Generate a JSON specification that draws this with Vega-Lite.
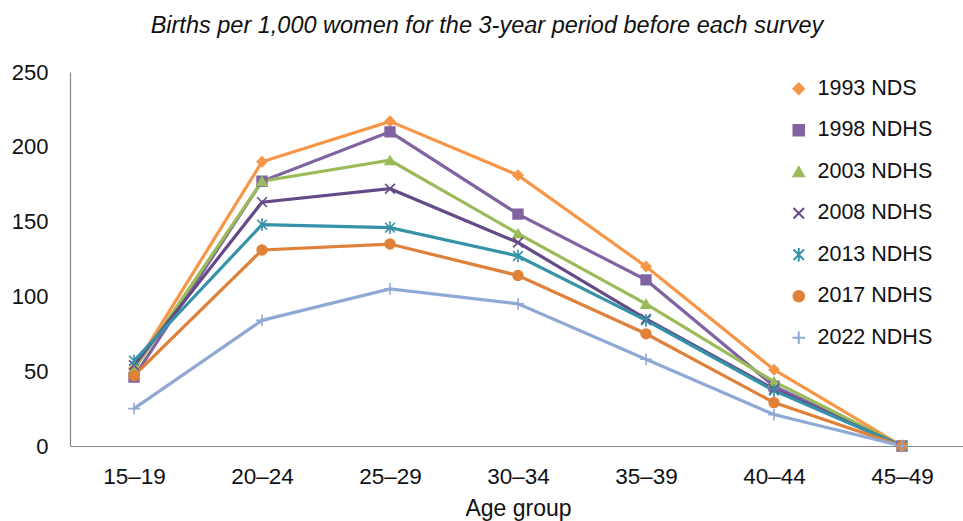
{
  "$schema": "https://vega.github.io/schema/vega-lite/v6.json",
  "autosize": "none",
  "width": 896,
  "height": 374,
  "padding": {"left": 70, "top": 72, "right": 0, "bottom": 75},
  "background": "white",
  "title": {
    "text": "Births per 1,000 women for the 3-year period before each survey",
    "font": "Liberation Sans",
    "fontSize": 23.5,
    "fontStyle": "italic",
    "fontWeight": "normal",
    "color": "#111111",
    "anchor": "middle",
    "dx": -31,
    "offset": 24
  },
  "data": {
    "values": [
      {"series": "1993 NDS", "age": "15–19", "rate": 52},
      {"series": "1993 NDS", "age": "20–24", "rate": 190},
      {"series": "1993 NDS", "age": "25–29", "rate": 217},
      {"series": "1993 NDS", "age": "30–34", "rate": 181},
      {"series": "1993 NDS", "age": "35–39", "rate": 120},
      {"series": "1993 NDS", "age": "40–44", "rate": 51},
      {"series": "1993 NDS", "age": "45–49", "rate": 0},
      {"series": "1998 NDHS", "age": "15–19", "rate": 46},
      {"series": "1998 NDHS", "age": "20–24", "rate": 177},
      {"series": "1998 NDHS", "age": "25–29", "rate": 210},
      {"series": "1998 NDHS", "age": "30–34", "rate": 155},
      {"series": "1998 NDHS", "age": "35–39", "rate": 111},
      {"series": "1998 NDHS", "age": "40–44", "rate": 40},
      {"series": "1998 NDHS", "age": "45–49", "rate": 0},
      {"series": "2003 NDHS", "age": "15–19", "rate": 51},
      {"series": "2003 NDHS", "age": "20–24", "rate": 177},
      {"series": "2003 NDHS", "age": "25–29", "rate": 191},
      {"series": "2003 NDHS", "age": "30–34", "rate": 142},
      {"series": "2003 NDHS", "age": "35–39", "rate": 95},
      {"series": "2003 NDHS", "age": "40–44", "rate": 43},
      {"series": "2003 NDHS", "age": "45–49", "rate": 0},
      {"series": "2008 NDHS", "age": "15–19", "rate": 54},
      {"series": "2008 NDHS", "age": "20–24", "rate": 163},
      {"series": "2008 NDHS", "age": "25–29", "rate": 172},
      {"series": "2008 NDHS", "age": "30–34", "rate": 136},
      {"series": "2008 NDHS", "age": "35–39", "rate": 85},
      {"series": "2008 NDHS", "age": "40–44", "rate": 38},
      {"series": "2008 NDHS", "age": "45–49", "rate": 0},
      {"series": "2013 NDHS", "age": "15–19", "rate": 57},
      {"series": "2013 NDHS", "age": "20–24", "rate": 148},
      {"series": "2013 NDHS", "age": "25–29", "rate": 146},
      {"series": "2013 NDHS", "age": "30–34", "rate": 127},
      {"series": "2013 NDHS", "age": "35–39", "rate": 84},
      {"series": "2013 NDHS", "age": "40–44", "rate": 37},
      {"series": "2013 NDHS", "age": "45–49", "rate": 0},
      {"series": "2017 NDHS", "age": "15–19", "rate": 47},
      {"series": "2017 NDHS", "age": "20–24", "rate": 131},
      {"series": "2017 NDHS", "age": "25–29", "rate": 135},
      {"series": "2017 NDHS", "age": "30–34", "rate": 114},
      {"series": "2017 NDHS", "age": "35–39", "rate": 75},
      {"series": "2017 NDHS", "age": "40–44", "rate": 29},
      {"series": "2017 NDHS", "age": "45–49", "rate": 0},
      {"series": "2022 NDHS", "age": "15–19", "rate": 25},
      {"series": "2022 NDHS", "age": "20–24", "rate": 84},
      {"series": "2022 NDHS", "age": "25–29", "rate": 105},
      {"series": "2022 NDHS", "age": "30–34", "rate": 95},
      {"series": "2022 NDHS", "age": "35–39", "rate": 58},
      {"series": "2022 NDHS", "age": "40–44", "rate": 21},
      {"series": "2022 NDHS", "age": "45–49", "rate": 0}
    ]
  },
  "encoding": {
    "x": {
      "field": "age",
      "type": "ordinal",
      "sort": null,
      "scale": {"type": "point", "padding": 0.5},
      "axis": {
        "title": "Age group",
        "titleFont": "Liberation Sans",
        "titleFontSize": 23,
        "titleFontWeight": "normal",
        "titleColor": "#111111",
        "titlePadding": 10,
        "labelFont": "Liberation Sans",
        "labelFontSize": 22.5,
        "labelColor": "#111111",
        "labelAngle": 0,
        "labelPadding": 19,
        "ticks": false,
        "grid": false,
        "domainColor": "#868686",
        "domainWidth": 1.2
      }
    },
    "y": {
      "field": "rate",
      "type": "quantitative",
      "scale": {"domain": [0, 250], "nice": false},
      "axis": {
        "title": null,
        "values": [0, 50, 100, 150, 200, 250],
        "labelFont": "Liberation Sans",
        "labelFontSize": 22,
        "labelColor": "#111111",
        "labelPadding": 22,
        "ticks": false,
        "grid": false,
        "domainColor": "#868686",
        "domainWidth": 1.2
      }
    },
    "color": {
      "field": "series",
      "type": "nominal",
      "scale": {
        "domain": ["1993 NDS", "1998 NDHS", "2003 NDHS", "2008 NDHS", "2013 NDHS", "2017 NDHS", "2022 NDHS"],
        "range": ["#F79646", "#8064A2", "#9BBB59", "#644B88", "#3592A8", "#DF8139", "#8FA9D4"]
      },
      "legend": {
        "title": null,
        "orient": "none",
        "legendX": 718,
        "legendY": 6,
        "labelFont": "Liberation Sans",
        "labelFontSize": 21.5,
        "labelColor": "#111111",
        "rowPadding": 18.5,
        "symbolSize": 110,
        "symbolStrokeWidth": 2,
        "labelOffset": 8
      }
    }
  },
  "layer": [
    {
      "mark": {"type": "line", "strokeWidth": 3.2},
      "encoding": {
        "detail": {"field": "series"}
      }
    },
    {
      "mark": {"type": "point", "filled": true, "size": 95, "strokeWidth": 1.6, "opacity": 1},
      "encoding": {
        "stroke": {
          "field": "series",
          "type": "nominal",
          "scale": {
            "domain": ["1993 NDS", "1998 NDHS", "2003 NDHS", "2008 NDHS", "2013 NDHS", "2017 NDHS", "2022 NDHS"],
            "range": ["#F79646", "#8064A2", "#9BBB59", "#644B88", "#3592A8", "#DF8139", "#8FA9D4"]
          },
          "legend": null
        },
        "shape": {
          "field": "series",
          "type": "nominal",
          "scale": {
            "domain": ["1993 NDS", "1998 NDHS", "2003 NDHS", "2008 NDHS", "2013 NDHS", "2017 NDHS", "2022 NDHS"],
            "range": ["diamond", "square", "triangle-up", "M-1,-1L1,1M-1,1L1,-1", "M-1,-1L1,1M-1,1L1,-1M0,-1.3L0,1.3", "circle", "M-1.2,0L1.2,0M0,-1.2L0,1.2"]
          }
        }
      }
    }
  ],
  "config": {
    "view": {"stroke": null}
  }
}
